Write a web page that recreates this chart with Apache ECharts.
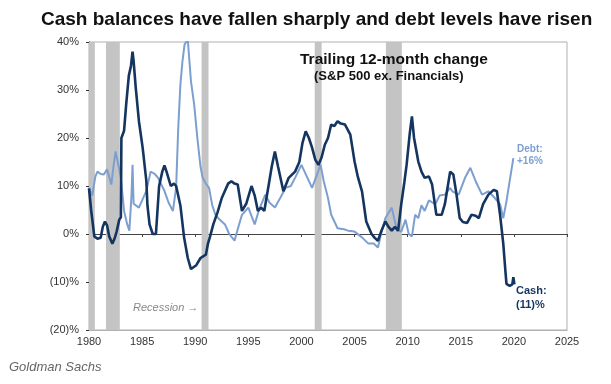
<!DOCTYPE html>
<html><head><meta charset="utf-8">
<script src="https://cdn.jsdelivr.net/npm/echarts@6/dist/echarts.min.js"></script>
<style>html,body{margin:0;padding:0;background:#fff}#c{width:611px;height:384px}</style>
</head><body><div id="c"></div>
<script>
var cashYears = [1980.0,1980.2,1980.5,1980.8,1981.1,1981.3,1981.5,1981.7,1981.9,1982.2,1982.4,1982.6,1982.85,1983.0,1983.05,1983.3,1983.5,1983.75,1983.95,1984.1,1984.2,1984.4,1984.7,1985.05,1985.4,1985.5,1985.7,1986.0,1986.3,1986.6,1986.9,1987.1,1987.3,1987.7,1988.0,1988.2,1988.6,1988.95,1989.3,1989.6,1990.1,1990.5,1991.0,1991.2,1991.4,1991.7,1992.1,1992.5,1992.8,1993.1,1993.4,1993.7,1994.0,1994.4,1994.8,1995.3,1995.6,1995.9,1996.2,1996.5,1996.9,1997.2,1997.5,1997.8,1998.3,1998.8,1999.4,1999.8,2000.1,2000.4,2000.7,2001.0,2001.3,2001.6,2001.9,2002.2,2002.5,2002.8,2003.1,2003.4,2003.7,2004.1,2004.6,2005.0,2005.3,2005.7,2006.1,2006.6,2006.9,2007.2,2007.5,2007.9,2008.2,2008.5,2008.8,2009.1,2009.4,2009.7,2009.9,2010.2,2010.4,2010.6,2011.0,2011.3,2011.6,2012.0,2012.3,2012.7,2013.2,2013.5,2014.0,2014.3,2014.6,2014.9,2015.2,2015.6,2016.0,2016.4,2016.7,2017.1,2017.6,2018.1,2018.4,2018.7,2019.0,2019.2,2019.3,2019.6,2019.85,2019.95,2020.05];
var cashValues = [9.5,5,-0.5,-1,-0.8,1.5,2.6,1.8,-0.5,-2,-1,0.5,3,3.5,20,21.5,27,33,35,38,36,30.5,23.5,18,11,6,2,0,0,10,13,14.3,13,10,10.5,10,6,-0.7,-5,-7.3,-6.5,-5,-4.3,-2,-0.5,2,4.5,7.5,9,10.5,11,10.5,10.3,4.8,6.3,10,8,4.8,5.5,4.8,10,14,17.2,14,8.9,11.7,13,15,19,21.4,20,18,15.5,14.4,16,18.6,20,22.8,22.5,23.5,23,22.8,20.7,15.1,12,8.9,2.6,0,-0.8,-1.4,0.5,2.6,1.5,0.7,1.5,0.7,6.3,11,14.4,21,24.5,20,15.1,13,11.7,12,10.3,4,4,6.2,13,12.4,8.2,3.3,2.5,2.3,4,3.8,3.3,6.2,8.2,9.2,8.9,4,-2,-7.7,-10.4,-10.8,-10.5,-9,-10.5];

var debtYears = [1980.0,1980.3,1980.6,1980.8,1981.1,1981.4,1981.7,1982.1,1982.3,1982.5,1982.8,1983.0,1983.3,1983.6,1983.8,1984.0,1984.1,1984.2,1984.7,1985.0,1985.4,1985.8,1986.2,1986.5,1987.1,1987.5,1987.9,1988.2,1988.4,1988.6,1988.8,1989.0,1989.3,1989.6,1989.9,1990.2,1990.5,1990.7,1991.0,1991.3,1991.6,1991.9,1992.3,1992.8,1993.2,1993.7,1994.0,1994.4,1995.0,1995.6,1996.0,1996.6,1997.0,1997.5,1998.0,1998.5,1999.0,1999.4,2000.0,2000.5,2001.0,2001.4,2001.8,2002.1,2002.5,2002.8,2003.4,2004.0,2004.4,2005.0,2005.7,2006.3,2006.8,2007.2,2007.5,2007.9,2008.5,2009.0,2009.4,2009.8,2010.1,2010.4,2010.7,2011.0,2011.3,2011.6,2012.0,2012.6,2013.0,2013.5,2014.0,2014.2,2014.8,2015.4,2015.9,2016.4,2017.0,2017.6,2018.2,2018.7,2019.0,2019.3,2019.6,2019.95];
var debtValues = [9.6,8,12,13,12.5,12.4,13.5,10.3,14,17.2,14,11.7,4.8,2,0.7,8,14.4,6.3,5.5,7,9,13,12.5,11.7,9,6.5,4.8,9.6,22,31,36,39.5,40.5,31.8,27,20,14,11.7,10.5,9.6,6,4,3,2,0,-1.4,1,4,5.5,2,5,8.2,6.5,5.5,7.5,9.6,10,11.7,14.4,12,9.6,12,14.4,11,7.5,4,1.2,1,0.7,0.5,-0.7,-2,-2,-2.8,0,3.3,5.5,0.7,0.5,3,0,-0.5,4,3.3,6,4.8,7,6.2,8,8.2,9.6,8.9,8.2,11.7,13.8,11,8.2,8.9,7.5,6.2,3.3,6.8,11,15.8];

var recessionStart = [1980.0,1981.6,1990.6,2001.25,2007.95];
var recessionEnd   = [1980.55,1982.9,1991.25,2001.9,2009.45];

var yTicks = [-20,-10,0,10,20,30,40];
var xTicks = [1980,1985,1990,1995,2000,2005,2010,2015,2020,2025];

function pairs(xs, ys){ return xs.map(function(x,i){return [x, ys[i]];}); }
var bands = recessionStart.map(function(s,i){ return [{xAxis:s},{xAxis:recessionEnd[i]}]; });

var chart = echarts.init(document.getElementById('c'), null, {renderer:'canvas'});
var FONT = 'Liberation Sans, Arial, sans-serif';
chart.setOption({
  animation:false,
  backgroundColor:'#fff',
  title:{text:'Cash balances have fallen sharply and debt levels have risen', left:36, top:5,
    textStyle:{fontFamily:FONT, fontSize:19, fontWeight:'bold', color:'#111'}},
  grid:{left:89, right:44, top:42, bottom:54, show:true, borderColor:'#b0b0b0', borderWidth:1},
  xAxis:[{type:'value', min:1980, max:2025, interval:5,
    axisLine:{onZero:false, lineStyle:{color:'#b0b0b0'}}, axisTick:{show:false},
    splitLine:{show:false},
    axisLabel:{fontFamily:FONT, fontSize:11, color:'#333', margin:6, formatter:function(v){return String(v);}}},
   {type:'value', min:1980, max:2025, interval:5, position:'bottom',
    axisLine:{onZero:true, lineStyle:{color:'#444', width:1}}, axisTick:{show:true, length:3, lineStyle:{color:'#444'}},
    axisLabel:{show:false}, splitLine:{show:false}}],
  yAxis:{type:'value', min:-20, max:40, interval:10,
    axisLine:{show:true, lineStyle:{color:'#333'}}, axisTick:{show:true, length:3, lineStyle:{color:'#333'}},
    splitLine:{show:false},
    axisLabel:{fontFamily:FONT, fontSize:11, color:'#333', margin:10,
      formatter:function(v){ return v<0 ? '('+(-v)+')%' : v+'%'; }}},
  series:[
    {type:'line', name:'Recession', data:[], silent:true,
     markArea:{silent:true, itemStyle:{color:'#c4c4c4'}, data:bands}},
    {type:'line', name:'Debt', data:pairs(debtYears, debtValues), showSymbol:false, symbol:'none',
     lineStyle:{color:'#7d9fd0', width:2}, clip:true, z:3},
    {type:'line', name:'Cash', data:pairs(cashYears, cashValues), showSymbol:false, symbol:'none',
     lineStyle:{color:'#14355f', width:2.6}, clip:true, z:4}
  ],
  graphic:[
    {type:'text', z:100, left:300, top:52, style:{text:'Trailing 12-month change', font:'bold 15.5px '+FONT, fill:'#111'}},
    {type:'text', z:100, left:314, top:70, style:{text:'(S&P 500 ex. Financials)', font:'bold 13px '+FONT, fill:'#111'}},
    {type:'text', z:100, left:517, top:143, style:{text:'Debt:\n+16%', font:'bold 10px '+FONT, fill:'#7d9fd0', lineHeight:12, align:'left'}},
    {type:'text', z:100, left:516, top:284, style:{text:'Cash:\n(11)%', font:'bold 11px '+FONT, fill:'#14355f', lineHeight:14}},
    {type:'text', z:100, left:133, top:302, style:{text:'Recession \u2192', font:'italic 11px '+FONT, fill:'#888'}},
    {type:'text', z:100, left:9, top:361, style:{text:'Goldman Sachs', font:'italic 13px '+FONT, fill:'#666'}}
  ]
});
</script></body></html>
